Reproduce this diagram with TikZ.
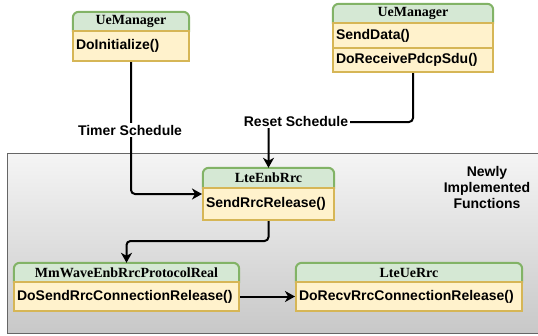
\documentclass[tikz,border=0pt]{standalone}
\usepackage{fontspec}
\setmainfont{Liberation Serif}
\setsansfont{Liberation Sans}
\usetikzlibrary{arrows.meta}
\pgfdeclarelayer{back}
\pgfdeclarelayer{mid}
\pgfsetlayers{back,mid,main}

\definecolor{hdrfill}{HTML}{D5E8D4}
\definecolor{hdrline}{HTML}{82B366}
\definecolor{bodyfill}{HTML}{FFF2CC}
\definecolor{bodyline}{HTML}{D6B656}
\definecolor{panelline}{HTML}{666666}
\definecolor{paneltop}{HTML}{F5F5F5}
\definecolor{panelbot}{HTML}{C8C8C8}

\tikzset{
  hdrtxt/.style={inner sep=0pt, font=\fontsize{14}{16}\selectfont\rmfamily\bfseries},
  headshape/.style={fill=hdrfill, draw=hdrline, line width=2pt},
  bodybox/.style={draw=bodyline, fill=bodyfill, line width=2pt, inner sep=0pt,
    font=\fontsize{14}{16}\selectfont\sffamily\bfseries, align=left},
  conn/.style={line width=2pt, -{Stealth[length=10pt,width=11pt,inset=3pt]}, rounded corners=4pt},
  lbl/.style={fill=white, inner sep=1.5pt, font=\fontsize{14}{16}\selectfont\sffamily\bfseries},
  note/.style={inner sep=0pt, align=center, font=\fontsize{14}{16}\selectfont\sffamily\bfseries},
}

% class title bar: name, x1, y1, x2, y2, title
\newcommand\classhead[6]{%
  \pgfmathsetmacro\hw{#4-#2}\pgfmathsetmacro\hh{#5-#3}%
  \pgfmathsetmacro\hcx{(#2+#4)/2}\pgfmathsetmacro\hcy{(#3+#5)/2}%
  \node[hdrtxt, minimum width=\hw pt, minimum height=\hh pt] (#1) at (\hcx,\hcy) {#6};
  \begin{pgfonlayer}{mid}
    \path[headshape] (#1.south west) [rounded corners=6pt] -- (#1.north west)
      -- (#1.north east) [sharp corners] -- (#1.south east) -- cycle;
  \end{pgfonlayer}}

% class member row: name, x1, y1, x2, y2, text
\newcommand\classrow[6]{%
  \pgfmathsetmacro\rw{#4-#2}\pgfmathsetmacro\rh{#5-#3}\pgfmathsetmacro\tw{#4-#2-6}%
  \pgfmathsetmacro\rcx{(#2+#4)/2}\pgfmathsetmacro\rcy{(#3+#5)/2}%
  \node[bodybox, minimum width=\rw pt, minimum height=\rh pt, text width=\tw pt]
    (#1) at (\rcx,\rcy) {#6};}

\begin{document}
\begin{tikzpicture}[x=1pt, y=-1pt]
\useasboundingbox (0,0) rectangle (538,335);

% shaded panel holding the new functions
\begin{pgfonlayer}{back}
  \draw[draw=panelline, line width=1pt, top color=paneltop, bottom color=panelbot]
    (7,153) rectangle (545,333);
\end{pgfonlayer}

% UeManager (left)
\classhead{umAh}{73}{12}{189}{31}{UeManager}
\classrow{umAb}{73}{31}{189}{61}{DoInitialize()}

% UeManager (right)
\classhead{umBh}{333}{4}{493}{23}{UeManager}
\classrow{umBr}{333}{23}{493}{48}{SendData()}
\classrow{umBs}{333}{48}{493}{72}{DoReceivePdcpSdu()}

% LteEnbRrc
\classhead{enbh}{203}{168}{334}{188}{LteEnbRrc}
\classrow{enbb}{203}{188}{334}{220}{SendRrcRelease()}

% MmWaveEnbRrcProtocolReal
\classhead{mmh}{14}{263}{239}{282}{MmWaveEnbRrcProtocolReal}
\classrow{mmb}{14}{282}{239}{311}{DoSendRrcConnectionRelease()}

% LteUeRrc
\classhead{ueh}{296}{263}{522}{282}{LteUeRrc}
\classrow{ueb}{296}{282}{522}{311}{DoRecvRrcConnectionRelease()}

\node[note] (newf) at (487,187) {Newly\\Implemented\\Functions};

% connectors
\draw[conn] (umAb.south) |- ([yshift=10pt]enbb.west);
\draw[conn] (umBs.south) -- ++(0,49) -| (enbh.north);
\draw[conn] (enbb.south) -- ++(0,20) -| (mmh.north);
\draw[conn] (mmb.east) -- (ueb.west);

% connector labels
\node[lbl] (timer) at (130,130) {Timer Schedule};
\node[lbl] (reset) at (296,121) {Reset Schedule};
\end{tikzpicture}
\end{document}
